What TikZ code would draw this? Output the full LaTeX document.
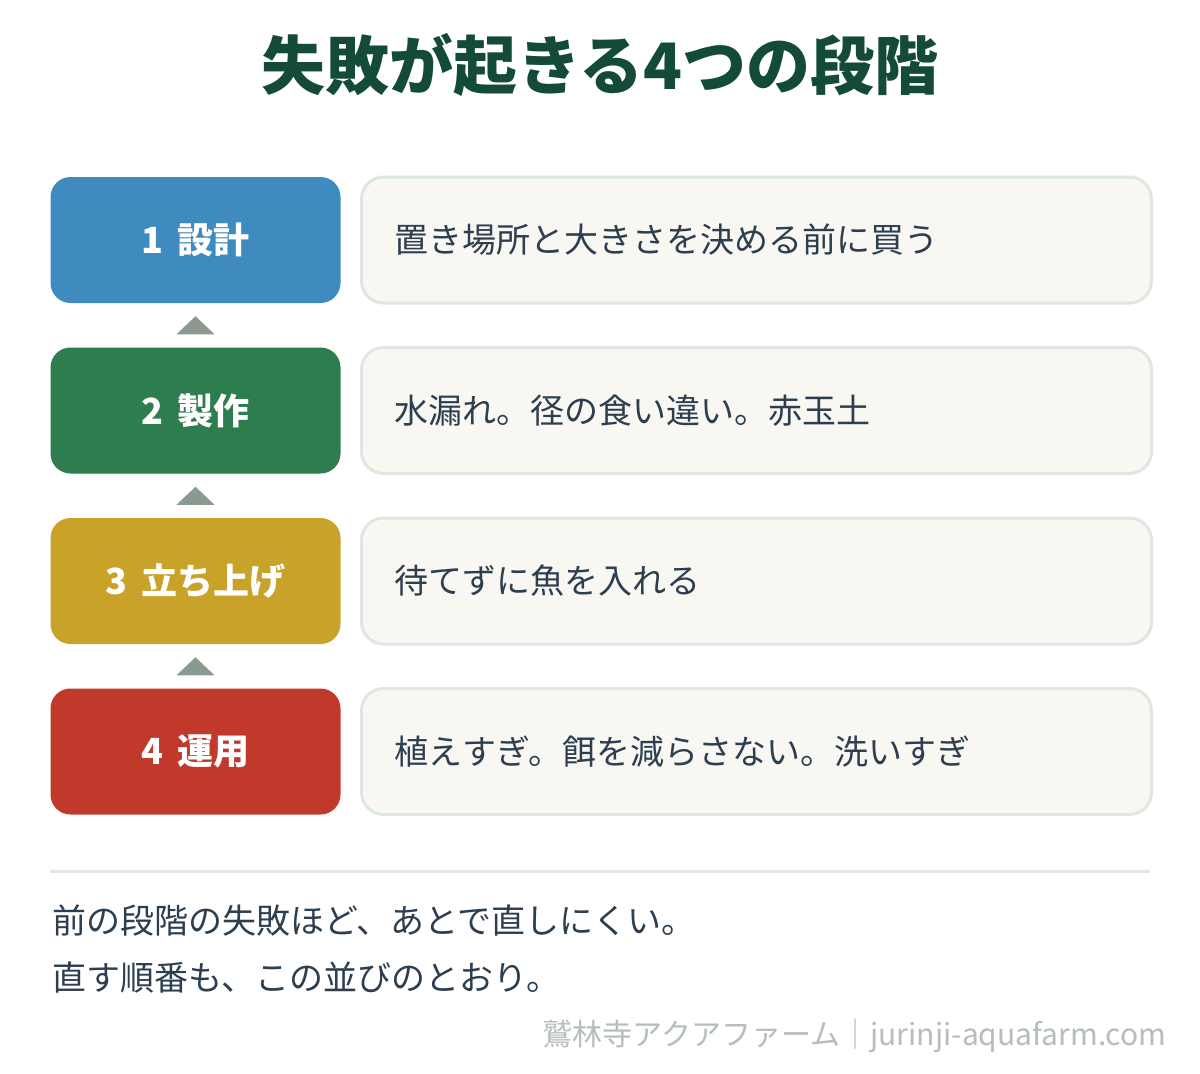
\documentclass[tikz,border=0pt]{standalone}
\usepackage{fontspec}
\setmainfont{Noto Sans CJK JP}
\usetikzlibrary{calc}
\newdimen\unit
\tikzset{unit/.code={\unit=\dimexpr#1\relax}}
\tikzset{xy/.style={x={#1},y={(0,-#1)},unit={#1},font={\fontsize{34\unit}{40\unit}\selectfont},line width=1\unit}}
\definecolor{titlegreen}{HTML}{134A3A}
\definecolor{stepblue}{HTML}{3F8BBF}
\definecolor{stepgreen}{HTML}{2E7D4F}
\definecolor{stepgold}{HTML}{C9A22A}
\definecolor{stepred}{HTML}{C0392B}
\definecolor{notefill}{HTML}{F8F7F2}
\definecolor{noteline}{HTML}{DFE7E3}
\definecolor{marker}{HTML}{8A9A90}
\definecolor{bodytext}{HTML}{2C3E50}
\definecolor{footgrey}{HTML}{B5BEB8}
\tikzset{
  stage/.style={rounded corners=20\unit,minimum width=290\unit,minimum height=126\unit,inner sep=0pt,text=white,font={\bfseries\fontsize{36\unit}{42\unit}\selectfont}},
  note/.style={draw=noteline,fill=notefill,line width=3\unit,rounded corners=22\unit,anchor=west,minimum height=126\unit,inner xsep=33\unit,text width=724\unit,align=left,text=bodytext},
}
\begin{document}
\begin{tikzpicture}[xy=1pt]%
    \path [use as bounding box, fill=white] (0,0) rectangle (1200,1074);
    \path (600,65) node [text=titlegreen, font={\bfseries\fontsize{64\unit}{74\unit}\selectfont}] (title) {失敗が起きる4つの段階};
    \foreach \i/\lab/\col/\txt in {1/設計/stepblue/置き場所と大きさを決める前に買う,
                                   2/製作/stepgreen/水漏れ。径の食い違い。赤玉土,
                                   3/立ち上げ/stepgold/待てずに魚を入れる,
                                   4/運用/stepred/植えすぎ。餌を減らさない。洗いすぎ} {
        \path ({195.5},{240+(\i-1)*170.5}) node [stage, fill=\col] (stage\i) {\i\hspace{14\unit}\lab};
        \path (360,{240+(\i-1)*170.5}) node [note] (note\i) {\txt};
    }
    \foreach \i/\j in {1/2,2/3,3/4} {
        \coordinate (gap\i) at ($(stage\i.south)!.5!(stage\j.north)$);
        \path [fill=marker] (gap\i) ++(-19,9) -- ++(38,0) -- ++(-19,-18) -- cycle;
    }
    \coordinate (rulel) at (50,871);
    \coordinate (ruler) at (1150,871);
    \path [draw=noteline, line width=3\unit] (rulel) -- (ruler);
    \path (52,921) node [anchor=west, inner sep=0pt, text=bodytext] (summary1) {前の段階の失敗ほど、あとで直しにくい。};
    \path (52,978) node [anchor=west, inner sep=0pt, text=bodytext] (summary2) {直す順番も、この並びのとおり。};
    \path (1167,1036) node [anchor=east, inner sep=0pt, text=footgrey, font={\fontsize{30\unit}{36\unit}\selectfont}] (footer) {鷲林寺アクアファーム｜jurinji-aquafarm.com};
\end{tikzpicture}
\end{document}
